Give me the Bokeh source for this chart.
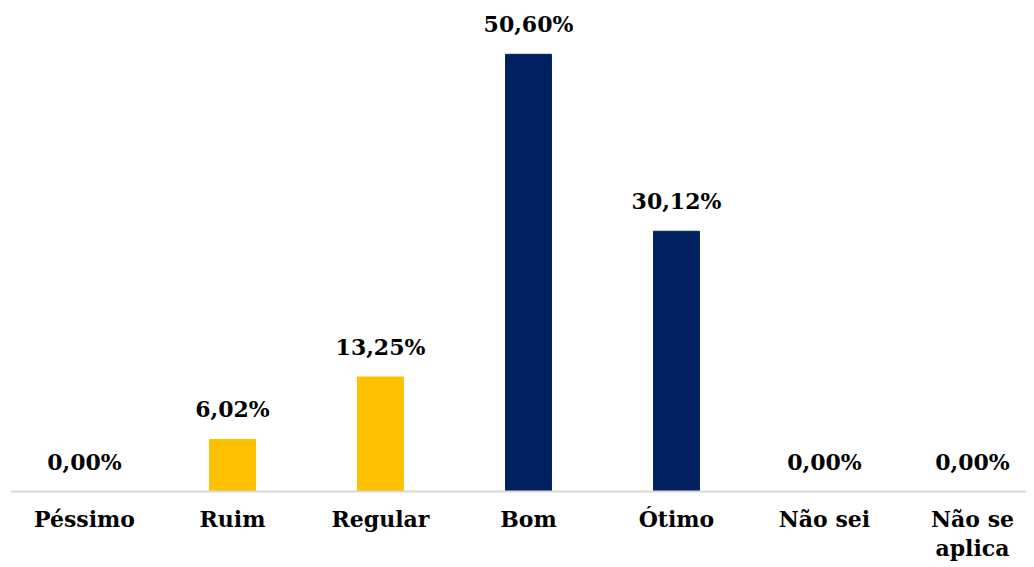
from bokeh.plotting import figure
from bokeh.models import Range1d, FixedTicker, ColumnDataSource
from bokeh.core.properties import value
from bokeh.embed import file_html
from bokeh.resources import INLINE

categories = ["Péssimo", "Ruim", "Regular", "Bom", "Ótimo", "Não sei", "Não se\naplica"]
values = [0.00, 6.02, 13.25, 50.60, 30.12, 0.00, 0.00]
colors = ["#FFC000", "#FFC000", "#FFC000", "#002060", "#002060", "#002060", "#002060"]
labels = ["0,00%", "6,02%", "13,25%", "50,60%", "30,12%", "0,00%", "0,00%"]

xs = list(range(len(categories)))
src = ColumnDataSource(dict(x=xs, top=values, color=colors, label=labels))

p = figure(frame_width=1016, frame_height=483, output_backend="svg", toolbar_location=None,
           x_range=Range1d(-0.5, 6.365), y_range=Range1d(0, 55.9),
           min_border_left=10, min_border_right=0, min_border_top=8)
p.outline_line_color = None
p.background_fill_color = "white"
p.xgrid.visible = False
p.ygrid.visible = False
p.yaxis.visible = False

p.vbar(x="x", top="top", width=0.31, color="color", source=src)
p.text(x="x", y="top", text="label", source=src, text_align="center", text_baseline="alphabetic",
       y_offset=-30, text_font=value("DejaVu Serif"), text_font_style="bold",
       text_font_size="22px", text_color="black")

ax = p.xaxis[0]
ax.ticker = FixedTicker(ticks=xs)
ax.major_label_overrides = {i: c for i, c in zip(xs, categories)}
ax.major_label_text_font = "DejaVu Serif"
ax.major_label_text_font_style = "bold"
ax.major_label_text_font_size = "22px"
ax.major_label_text_color = "black"
ax.major_label_text_line_height = 1.12
ax.major_label_standoff = 14
ax.major_tick_line_color = None
ax.minor_tick_line_color = None
ax.major_tick_out = 0
ax.axis_line_color = "#d9d9d9"
ax.axis_line_width = 2

open("out.html", "w").write(file_html(p, INLINE))
